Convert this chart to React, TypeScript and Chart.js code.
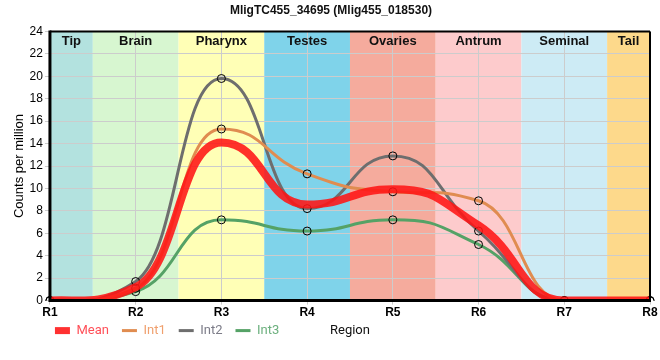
import { useEffect, useRef } from 'react';
import { Chart, registerables } from 'chart.js';

Chart.register(...registerables);

const categories = ['R1', 'R2', 'R3', 'R4', 'R5', 'R6', 'R7', 'R8'];
const meanValues = [0, 1.2, 14.1, 8.57, 9.93, 6.7, 0, 0];
const int1Values = [0, 1.1, 15.3, 11.3, 9.7, 8.9, 0, 0];
const int2Values = [0, 1.7, 19.8, 8.2, 12.9, 6.2, 0, 0];
const int3Values = [0, 0.8, 7.2, 6.2, 7.2, 5.0, 0, 0];

const seriesNames = ['Mean', 'Int1', 'Int2', 'Int3'];
const seriesColors = ['rgba(255, 20, 20, 0.88)', '#e08c50', '#6e6e6e', '#55a266'];
const seriesWidths = [8, 3, 3, 3];
const legendTextColors = ['#ff4f58', '#f0a06e', '#7c7c88', '#6cb07e'];

const regionNames = ['Tip', 'Brain', 'Pharynx', 'Testes', 'Ovaries', 'Antrum', 'Seminal', 'Tail'];
const regionStarts = [0, 0.5, 1.5, 2.5, 3.5, 4.5, 5.5, 6.5];
const regionEnds = [0.5, 1.5, 2.5, 3.5, 4.5, 5.5, 6.5, 7];
const regionColors = ['#b3e2df', '#d7f6d0', '#ffffb6', '#7fd3ea', '#f5ab9d', '#fdcbcc', '#cdebf5', '#fdd98b'];

const titleText = 'MligTC455_34695 (Mlig455_018530)';
const yTitle = 'Counts per million';
const xTitle = 'Region';
const yMin = 0;
const yMax = 24;
const yStep = 2;

const LEGEND_PAD = 13;
const LEGEND_FONT = 13;
const LEGEND_OFFSET = 30; // legend row centre below the plot bottom
const HANDLE = 1.5; // bezier handle stretch

const bandsPlugin = {
  id: 'bands',
  afterDatasetsUpdate(chart: any) {
    chart.getSortedVisibleDatasetMetas().forEach((m: any) => {
      if (m.dataset) m.dataset._needStretch = true;
    });
  },
  beforeDatasetDraw(chart: any, args: any) {
    const meta = args.meta;
    const line = meta && meta.dataset;
    if (!line || !line._needStretch) return;
    line.updateControlPoints(chart.chartArea, meta.iAxis);
    for (const p of line.points) {
      if (p.cp1x === undefined) continue;
      p.cp1x = p.x + (p.cp1x - p.x) * HANDLE;
      p.cp1y = p.y + (p.cp1y - p.y) * HANDLE;
      p.cp2x = p.x + (p.cp2x - p.x) * HANDLE;
      p.cp2y = p.y + (p.cp2y - p.y) * HANDLE;
    }
    line._path = undefined;
    line._needStretch = false;
  },
  beforeDraw(chart: any) {
    const { ctx, chartArea: a, scales } = chart;
    const x = scales.x;
    ctx.save();
    regionNames.forEach((_n, i) => {
      const x0 = x.getPixelForValue(regionStarts[i]);
      const x1 = x.getPixelForValue(regionEnds[i]);
      ctx.fillStyle = regionColors[i];
      ctx.fillRect(x0, a.top, x1 - x0, a.bottom - a.top);
    });
    ctx.restore();
  },
  beforeDatasetsDraw(chart: any) {
    const { ctx, chartArea: a, scales } = chart;
    const x = scales.x;
    ctx.save();
    ctx.font = 'bold 13px "Liberation Sans", Arial, sans-serif';
    ctx.fillStyle = '#111';
    ctx.textAlign = 'center';
    ctx.textBaseline = 'middle';
    regionNames.forEach((n, i) => {
      const x0 = x.getPixelForValue(regionStarts[i]);
      const x1 = x.getPixelForValue(regionEnds[i]);
      ctx.fillText(n, (x0 + x1) / 2, a.top + 10);
    });
    ctx.restore();
  },
  afterDatasetsDraw(chart: any) {
    const { ctx, chartArea: a } = chart;
    ctx.save();
    ctx.strokeStyle = '#000';
    ctx.lineWidth = 2;
    ctx.beginPath();
    ctx.moveTo(a.left, a.top);
    ctx.lineTo(a.right, a.top);
    ctx.moveTo(a.right, a.top);
    ctx.lineTo(a.right, a.bottom);
    ctx.stroke();
    ctx.lineWidth = 3;
    ctx.beginPath();
    ctx.moveTo(a.left, a.top - 1);
    ctx.lineTo(a.left, a.bottom);
    ctx.lineTo(a.right + 1, a.bottom);
    ctx.stroke();
    ctx.restore();
  },
  afterLayout(chart: any) {
    const lg = chart.legend;
    if (!lg) return;
    const shiftX = chart.chartArea.left + 5 - (lg.left + LEGEND_PAD);
    lg.left += shiftX;
    lg.right += shiftX;
    const targetTop = chart.chartArea.bottom + LEGEND_OFFSET - LEGEND_PAD - LEGEND_FONT / 2;
    const shiftY = targetTop - lg.top;
    lg.top += shiftY;
    lg.bottom += shiftY;
  },
  afterDraw(chart: any) {
    const { ctx, chartArea: a } = chart;
    const lg = chart.legend;
    if (!lg) return;
    ctx.save();
    ctx.font = `${LEGEND_FONT}px Roboto, sans-serif`;
    ctx.fillStyle = '#111';
    ctx.textAlign = 'center';
    ctx.textBaseline = 'middle';
    ctx.fillText(xTitle, (a.left + a.right) / 2, lg.top + LEGEND_PAD + LEGEND_FONT / 2);
    ctx.restore();
  },
};

export default function App() {
  const ref = useRef<HTMLCanvasElement | null>(null);

  useEffect(() => {
    if (!ref.current) return;
    const valueSets = [meanValues, int1Values, int2Values, int3Values];
    const chart = new Chart(ref.current, {
      type: 'line',
      data: {
        labels: categories,
        datasets: valueSets.map((vals, i) => ({
          label: seriesNames[i],
          data: vals,
          borderColor: seriesColors[i],
          backgroundColor: seriesColors[i],
          borderWidth: seriesWidths[i],
          cubicInterpolationMode: 'monotone' as const,
          fill: false,
          pointRadius: i === 0 ? 0 : 4,
          pointBorderColor: '#000',
          pointBorderWidth: 1,
          pointBackgroundColor: 'rgba(0,0,0,0)',
          order: i,
        })),
      },
      options: {
        animation: false,
        responsive: true,
        maintainAspectRatio: false,
        events: [],
        layout: { padding: { left: 12, right: 10, top: 0, bottom: 3 } },
        plugins: {
          tooltip: { enabled: false },
          title: {
            display: true,
            text: titleText,
            color: '#111',
            font: { family: '"Liberation Sans", Arial, sans-serif', size: 12, weight: 'bold' },
            padding: { top: 3, bottom: 14 },
          },
          legend: {
            display: true,
            position: 'bottom',
            align: 'start',
            labels: {
              usePointStyle: true,
              pointStyleWidth: 15,
              boxHeight: 7,
              padding: LEGEND_PAD,
              font: { family: 'Roboto, sans-serif', size: LEGEND_FONT },
              generateLabels: (ch: any) =>
                ch.data.datasets.map((ds: any, i: number) => ({
                  text: ds.label,
                  fillStyle: i === 0 ? seriesColors[0] : 'rgba(0,0,0,0)',
                  strokeStyle: seriesColors[i],
                  lineWidth: i === 0 ? 0 : 3,
                  pointStyle: i === 0 ? 'rect' : 'line',
                  fontColor: legendTextColors[i],
                  datasetIndex: i,
                  hidden: false,
                })),
            },
          },
        },
        scales: {
          x: {
            type: 'category',
            offset: false,
            grid: { color: '#cccccc', tickLength: 4 },
            border: { display: false },
            ticks: {
              color: '#000',
              padding: 1,
              font: { family: '"Liberation Sans", Arial, sans-serif', size: 12, weight: 'bold' },
              maxRotation: 0,
            },
          },
          y: {
            min: yMin,
            max: yMax,
            grid: { color: '#cccccc', tickLength: 5 },
            border: { display: false },
            ticks: {
              stepSize: yStep,
              color: '#000',
              padding: 2,
              font: { family: '"Liberation Sans", Arial, sans-serif', size: 12 },
            },
            title: {
              display: true,
              text: yTitle,
              color: '#000',
              font: { family: '"Liberation Sans", Arial, sans-serif', size: 13 },
              padding: { top: 0, bottom: 0 },
            },
          },
        },
      },
      plugins: [bandsPlugin],
    });
    return () => chart.destroy();
  }, []);

  return (
    <div style={{ position: 'fixed', left: 0, top: 0, width: 660, height: 360 }}>
      <canvas ref={ref} />
    </div>
  );
}
